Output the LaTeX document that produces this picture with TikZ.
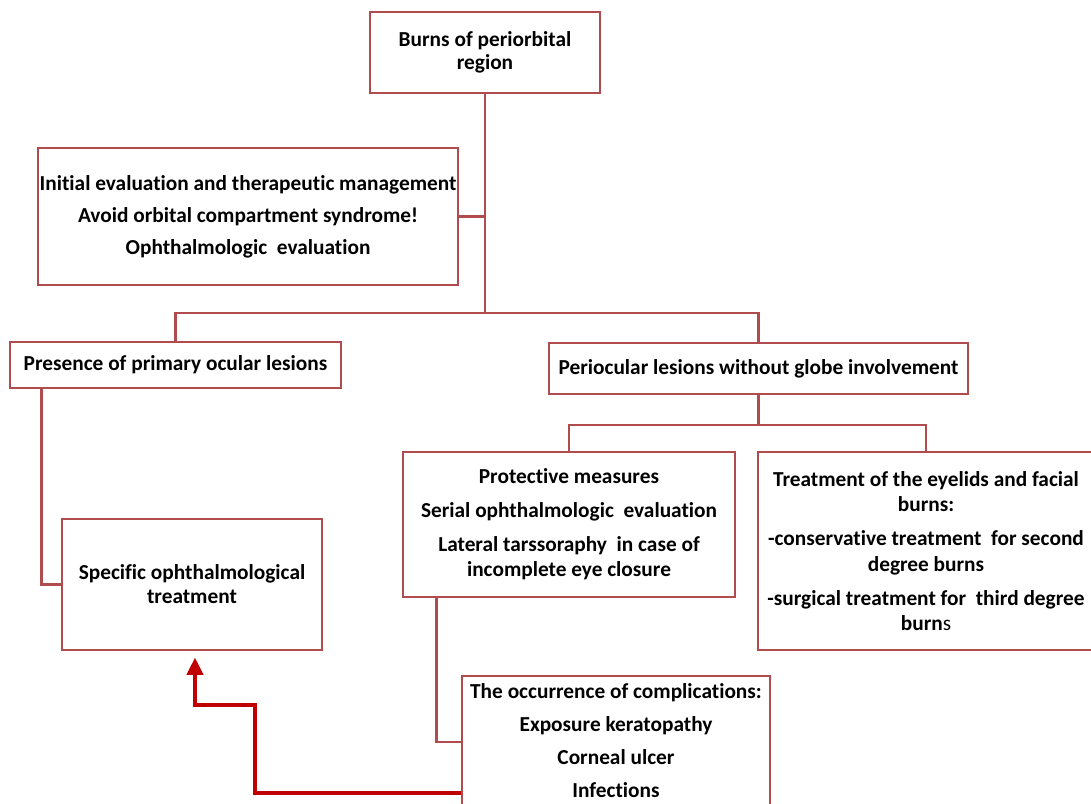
\documentclass[tikz,border=0pt]{standalone}
\usepackage{fontspec}
\setmainfont[RawFeature=-liga]{Carlito}
\usetikzlibrary{arrows.meta,positioning}
\definecolor{boxred}{RGB}{176,76,78}
\definecolor{arrowred}{RGB}{192,0,0}

\begin{document}
\begin{tikzpicture}[
    x=0.75pt, y=-0.75pt,
    font=\fontsize{16}{19}\selectfont\bfseries,
    box/.style={draw=boxred, line width=2.2pt, align=center, inner sep=0pt, fill=white},
    link/.style={draw=boxred, line width=1.9pt},
    flow/.style={draw=arrowred, line width=2.8pt, -{Triangle[length=13pt,width=12pt]}},
]
\useasboundingbox (0,0) rectangle (1091,803);

% --- Top of the tree ---
\node[box, minimum width=172.5pt, minimum height=60.75pt, font=\fontsize{16}{17}\selectfont\bfseries]
      (burns) at (485,52.5) {Burns of periorbital\\region};
\node[box, minimum width=315pt, minimum height=102.75pt] (initial) at (248,216.5)
      {Initial evaluation and therapeutic management\\[5pt]
       Avoid orbital compartment syndrome!\\[5pt]
       Ophthalmologic\ \ evaluation};

% --- First split ---
\node[box, minimum width=248.25pt, minimum height=34.5pt] (primary) at (175.5,365)
      {Presence of primary ocular lesions};
\node[box, minimum width=314.25pt, minimum height=38.25pt] (periocular) at (758.5,368.5)
      {Periocular lesions without globe involvement};

% --- Second split (periocular side) ---
\node[box, minimum width=249pt, minimum height=108.75pt] (protective) at (569,524.5)
      {Protective measures\\[6.5pt]
       Serial ophthalmologic\ \ evaluation\\[6.5pt]
       Lateral tarssoraphy\ \ in case of\\incomplete eye closure};
\node[box, minimum width=252pt, minimum height=148.5pt] (eyelids) at (926,551)
      {Treatment of the eyelids and facial\\burns:\\[6.5pt]
       -conservative treatment\ \ for second\\degree burns\\[6.5pt]
       -surgical treatment for\ \ third degree\\burn{\mdseries s}};

% --- Outcomes ---
\node[box, minimum width=195pt, minimum height=98.25pt, font=\fontsize{16}{18}\selectfont\bfseries]
      (specific) at (192,584.5) {Specific ophthalmological\\treatment};
\node[box, minimum width=231pt, minimum height=96.75pt] (complic) at (616,740.5)
      {The occurrence of complications:\\[5.75pt]
       Exposure keratopathy\\[5.75pt]
       Corneal ulcer\\[5.75pt]
       Infections};

% --- Tree connectors ---
\coordinate (split1) at (485,313);
\coordinate (split2) at (760,425);
\draw[link] (burns) -- (split1);
\draw[link] (initial.east) -- (initial.east -| burns.south);
\draw[link] (primary.north) |- (split1) -| (periocular.north);
\draw[link] (periocular.south) -- (periocular.south |- split2);
\draw[link] (protective.north) |- (split2) -| (eyelids.north);
\draw[link] ([xshift=24.75pt]primary.south west) |- (specific.west);
\draw[link] ([xshift=26.25pt]protective.south west) |- ([yshift=-1pt]complic.west);

% Complications send the patient back to specific treatment
\coordinate (detour) at (255,705);
\draw[flow] ([yshift=-39.4pt]complic.west) -| (detour) -| ([xshift=2.25pt,yshift=-4.5pt]specific.south);

\end{tikzpicture}
\end{document}
